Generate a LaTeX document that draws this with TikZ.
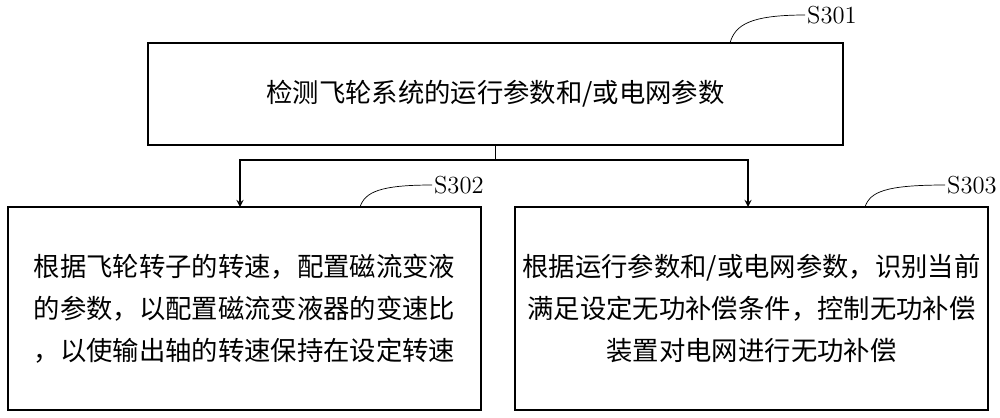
\documentclass[tikz,border=0pt]{standalone}
\usepackage{fontspec}
\newfontfamily\cjk{Noto Sans CJK SC}
\usetikzlibrary{positioning}
\tikzset{
  stepbox/.style={draw, thick, rectangle, inner sep=0pt, font=\cjk\fontsize{15}{24}\selectfont},
  steplabel/.style={font=\fontsize{14}{16}\selectfont, anchor=west, inner sep=1pt},
  flow/.style={->, thick, >=stealth}
}
\begin{document}
\begin{tikzpicture}[x=0.02cm, y=-0.02cm]
\useasboundingbox (0,0) rectangle (1000,417);
% Top step
\node[stepbox, minimum width=695*0.02cm, minimum height=102*0.02cm] (detect) at (495.5,94) {检测飞轮系统的运行参数和/或电网参数};
% Left step
\node[stepbox, minimum width=473*0.02cm, minimum height=203*0.02cm, align=left] (speed) at (244.5,308.5) {根据飞轮转子的转速，配置磁流变液\\的参数，以配置磁流变液器的变速比\\，以使输出轴的转速保持在设定转速};
% Right step
\node[stepbox, minimum width=473*0.02cm, minimum height=203*0.02cm, align=center] (comp) at (751.5,308.5) {根据运行参数和/或电网参数，识别当前\\满足设定无功补偿条件，控制无功补偿\\装置对电网进行无功补偿};
% Split
\coordinate (split) at (495.5,160);
\draw[thick] (detect.south) -- (split);
\draw[flow] (split) -| (240,207);
\draw[flow] (split) -| (748,207);
% Labels
\node[steplabel] (l301) at (805,15) {S301};
\node[steplabel] (l302) at (432,185) {S302};
\node[steplabel] (l303) at (945,185) {S303};
\draw (730,43) .. controls (735,25) and (750,15) .. (l301.west);
\draw (360,207) .. controls (365,192) and (380,185) .. (l302.west);
\draw (865,207) .. controls (870,192) and (885,185) .. (l303.west);
\end{tikzpicture}
\end{document}
